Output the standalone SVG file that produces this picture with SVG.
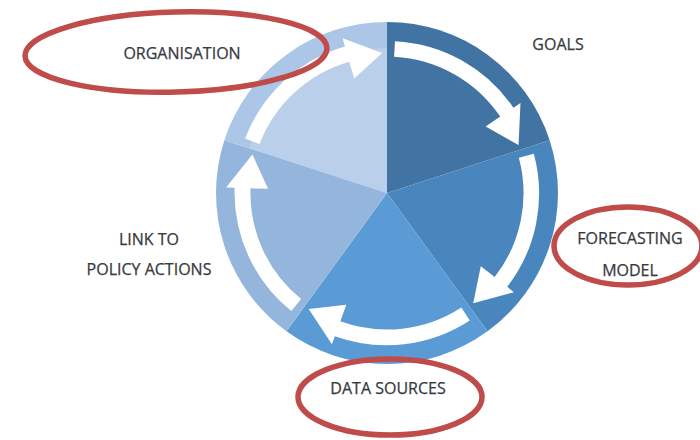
<svg xmlns="http://www.w3.org/2000/svg" xmlns:xlink="http://www.w3.org/1999/xlink" width="700" height="440" viewBox="0 0 700 440">
<style>
.lbl{font-family:"Open Sans","DejaVu Sans",sans-serif;font-size:16px;fill:#363a3e;text-anchor:middle;stroke:#363a3e;stroke-width:0.25}
.ring{fill:none;stroke:#bf4b4a;stroke-width:5.5}
.arrow{fill:#ffffff}
</style>
<defs>
<path id="arr" d="M394.96 41.21 A152.5 152.5 0 0 1 513.4 107.7 L520.48 102.97 L518.56 145.12 L485.66 126.46 L500.2 116.6 A136.5 136.5 0 0 0 394.14 56.69 Z"/>
</defs>
<rect width="700" height="440" fill="#ffffff"/>
<g id="goals">
<path d="M387 193 L387 22 A171 171 0 0 1 549.63 140.16 Z" fill="#4174a2"/>
<text class="lbl" x="558" y="50">GOALS</text>
</g>
<g id="forecasting-model">
<path d="M387 193 L549.63 140.16 A171 171 0 0 1 487.51 331.34 Z" fill="#4a86be"/>
<text class="lbl" x="630" y="244">FORECASTING</text>
<text class="lbl" x="630" y="276">MODEL</text>
</g>
<g id="data-sources">
<path d="M387 193 L487.51 331.34 A171 171 0 0 1 286.49 331.34 Z" fill="#5b9bd5"/>
<text class="lbl" x="388" y="394">DATA SOURCES</text>
</g>
<g id="link-to-policy-actions">
<path d="M387 193 L286.49 331.34 A171 171 0 0 1 224.37 140.16 Z" fill="#94b6dd"/>
<text class="lbl" x="149" y="245">LINK TO</text>
<text class="lbl" x="149" y="275">POLICY ACTIONS</text>
</g>
<g id="organisation">
<path d="M387 193 L224.37 140.16 A171 171 0 0 1 387 22 Z" fill="#abc6e7"/>
<path d="M387 193 L249.10 148.19 A145 145 0 0 1 387 48 Z" fill="#bad0ea"/>
<text class="lbl" x="182" y="59">ORGANISATION</text>
</g>
<g id="connectors" class="arrow">
<use xlink:href="#arr"/>
<use xlink:href="#arr" transform="rotate(72 387 193)"/>
<use xlink:href="#arr" transform="rotate(144 387 193)"/>
<use xlink:href="#arr" transform="rotate(216 387 193)"/>
<use xlink:href="#arr" transform="rotate(288 387 193)"/>
</g>
<g id="highlights">
<ellipse class="ring" cx="176" cy="52" rx="151" ry="40" transform="rotate(-1.5 176 52)"/>
<ellipse class="ring" cx="628" cy="246" rx="74" ry="39"/>
<ellipse class="ring" cx="390" cy="397" rx="92" ry="38"/>
</g>
</svg>
